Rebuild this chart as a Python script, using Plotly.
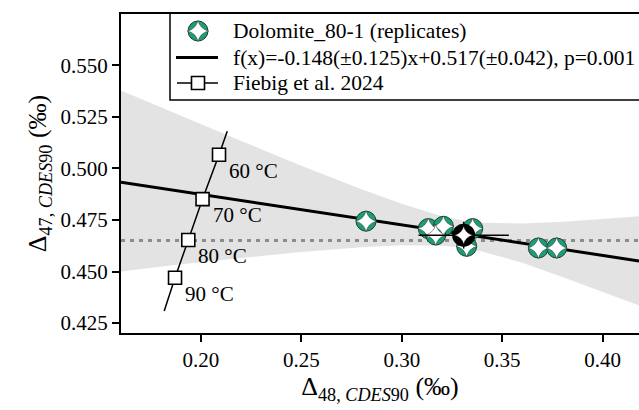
import plotly.graph_objects as go
import numpy as np

# ---------------- data ----------------
dol_d48 = [0.2822, 0.3132, 0.3207, 0.3169, 0.3353, 0.3323, 0.3680, 0.3771]
dol_d47 = [0.4744, 0.4708, 0.4719, 0.4677, 0.4708, 0.4622, 0.4614, 0.4614]
mean_d48 = [0.3308]
mean_d47 = [0.4676]
mean_err48 = [0.0225]
mean_err47 = [0.0065]

fit_slope = -0.148
fit_intercept = 0.517

band_x = [0.16, 0.19, 0.22, 0.25, 0.28, 0.30, 0.32, 0.33, 0.34, 0.36, 0.38, 0.40, 0.42]
band_upper = [0.5378, 0.5255, 0.5133, 0.5013, 0.4899, 0.4828, 0.4768, 0.4748, 0.4736, 0.4733, 0.4741, 0.4754, 0.4769]
band_lower = [0.4500, 0.4535, 0.4565, 0.4595, 0.4618, 0.4627, 0.4625, 0.4616, 0.4597, 0.4542, 0.4474, 0.4402, 0.4328]

ref_d47 = 0.465

fiebig_line_d48 = [0.1817, 0.1871, 0.1937, 0.2008, 0.2090, 0.2131]
fiebig_line_d47 = [0.4309, 0.4470, 0.4653, 0.4851, 0.5066, 0.5180]
fiebig_d48 = [0.2090, 0.2008, 0.1937, 0.1871]
fiebig_d47 = [0.5066, 0.4851, 0.4653, 0.4470]
fiebig_labels = ["60 °C", "70 °C", "80 °C", "90 °C"]

x_range = [0.1602, 0.4181]
y_range = [0.4202, 0.5748]
x_ticks = [0.20, 0.25, 0.30, 0.35, 0.40]
y_ticks = [0.425, 0.450, 0.475, 0.500, 0.525, 0.550]

legend_labels = ["Dolomite_80-1 (replicates)",
                 "f(x)=-0.148(±0.125)x+0.517(±0.042), p=0.001",
                 "Fiebig et al. 2024"]

FONT = "Liberation Serif"
GREEN = "#1b9e77"

fig = go.Figure()

# confidence band
fig.add_trace(go.Scatter(
    x=band_x + band_x[::-1], y=band_upper + band_lower[::-1],
    fill="toself", fillcolor="#e3e3e3", line=dict(width=0),
    mode="lines", showlegend=False, hoverinfo="skip"))

# reference dotted line
fig.add_trace(go.Scatter(
    x=x_range, y=[ref_d47, ref_d47], mode="lines",
    line=dict(color="#8c8c8c", width=3, dash="4px,5px"),
    showlegend=False, hoverinfo="skip"))

# regression line
fx = np.array(x_range)
fig.add_trace(go.Scatter(
    x=fx, y=fit_slope * fx + fit_intercept, mode="lines",
    line=dict(color="black", width=3), name=legend_labels[1], showlegend=False))

# Fiebig line + points
fig.add_trace(go.Scatter(
    x=fiebig_line_d48, y=fiebig_line_d47, mode="lines",
    line=dict(color="black", width=1.5), showlegend=False, hoverinfo="skip"))
fig.add_trace(go.Scatter(
    x=fiebig_d48, y=fiebig_d47, mode="markers",
    marker=dict(symbol="square", size=13, color="white",
                line=dict(color="black", width=1.6)),
    name=legend_labels[2], showlegend=False))

# dolomite replicates
fig.add_trace(go.Scatter(
    x=dol_d48, y=dol_d47, mode="markers",
    marker=dict(symbol="circle", size=20, color=GREEN,
                line=dict(color="#1f3d33", width=1)),
    name=legend_labels[0], showlegend=False))
fig.add_trace(go.Scatter(
    x=dol_d48, y=dol_d47, mode="markers",
    marker=dict(symbol="star-diamond", size=15, color="white",
                line=dict(color="#333", width=0.5)),
    showlegend=False, hoverinfo="skip"))

# mean
fig.add_trace(go.Scatter(
    x=mean_d48, y=mean_d47, mode="markers",
    marker=dict(symbol="circle", size=21, color="black",
                line=dict(color="black", width=2)),
    error_x=dict(type="data", array=mean_err48, color="black", thickness=1.5, width=0),
    error_y=dict(type="data", array=mean_err47, color="black", thickness=1.5, width=0),
    showlegend=False))
fig.add_trace(go.Scatter(
    x=mean_d48, y=mean_d47, mode="markers",
    marker=dict(symbol="star-diamond", size=13, color="white",
                line=dict(color="black", width=0.5)),
    showlegend=False, hoverinfo="skip"))

for xv, yv, lab in zip(fiebig_d48, fiebig_d47, fiebig_labels):
    fig.add_annotation(x=xv, y=yv, text=lab, showarrow=False,
                       xanchor="left", yanchor="middle", xshift=8, yshift=-16,
                       font=dict(family=FONT, size=21, color="black"))

# ---------------- legend (drawn in paper coordinates) ----------------
W, H, L, T = 639, 410, 121, 14
PW, PH = W - L, 333 - T
def px(x): return (x - L) / PW
def py(y): return (333 - y) / PH

fig.add_shape(type="rect", xref="paper", yref="paper",
              x0=px(170), x1=px(660), y0=py(100), y1=py(13),
              fillcolor="white", line=dict(color="black", width=1.5), layer="below")
row_y = [31, 57.5, 83]
fig.add_shape(type="line", xref="paper", yref="paper",
              x0=px(176), x1=px(218), y0=py(row_y[1]), y1=py(row_y[1]),
              line=dict(color="black", width=3), layer="above")
fig.add_shape(type="line", xref="paper", yref="paper",
              x0=px(177), x1=px(218), y0=py(row_y[2]), y1=py(row_y[2]),
              line=dict(color="black", width=1.5), layer="below")
for ry, lab in zip(row_y, legend_labels):
    fig.add_annotation(xref="paper", yref="paper", x=px(231), y=py(ry), text=lab,
                       showarrow=False, xanchor="left", yanchor="middle",
                       font=dict(family=FONT, size=21.5, color="black"))

# legend keys on an overlay axis spanning the plot in paper units
fig.add_trace(go.Scatter(
    x=[px(198)], y=[py(row_y[0])], xaxis="x2", yaxis="y2", mode="markers",
    marker=dict(symbol="circle", size=20, color=GREEN, line=dict(color="#1f3d33", width=1)),
    cliponaxis=False, showlegend=False, hoverinfo="skip"))
fig.add_trace(go.Scatter(
    x=[px(198)], y=[py(row_y[0])], xaxis="x2", yaxis="y2", mode="markers",
    marker=dict(symbol="star-diamond", size=15, color="white", line=dict(color="#333", width=0.5)),
    cliponaxis=False, showlegend=False, hoverinfo="skip"))
fig.add_trace(go.Scatter(
    x=[px(198)], y=[py(row_y[2])], xaxis="x2", yaxis="y2", mode="markers",
    marker=dict(symbol="square", size=13, color="white", line=dict(color="black", width=1.6)),
    cliponaxis=False, showlegend=False, hoverinfo="skip"))

fig.update_layout(
    width=W, height=H,
    margin=dict(l=L, r=0, t=T, b=77),
    plot_bgcolor="white", paper_bgcolor="white",
    font=dict(family=FONT, size=21, color="black"),
    showlegend=False,
    xaxis=dict(range=x_range, tickvals=x_ticks, ticktext=[f"{v:.2f}" for v in x_ticks],
               showgrid=False, zeroline=False, showline=True, linecolor="black",
               linewidth=2, mirror=True, ticks="outside", ticklen=7, tickwidth=1.5,
               tickcolor="black",
               title=dict(text="Δ<sub>48, <i>CDES</i>90</sub> (‰)",
                          font=dict(family=FONT, size=26), standoff=4)),
    yaxis=dict(range=y_range, tickvals=y_ticks, ticktext=[f"{v:.3f}" for v in y_ticks],
               showgrid=False, zeroline=False, showline=True, linecolor="black",
               linewidth=2, mirror=False, ticks="outside", ticklen=7, tickwidth=1.5,
               tickcolor="black",
               title=dict(text="Δ<sub>47, <i>CDES</i>90</sub> (‰)",
                          font=dict(family=FONT, size=26), standoff=6)),
    xaxis2=dict(overlaying="x", range=[0, 1], visible=False, fixedrange=True),
    yaxis2=dict(overlaying="y", range=[0, 1], visible=False, fixedrange=True),
)

fig.write_html("out.html")
